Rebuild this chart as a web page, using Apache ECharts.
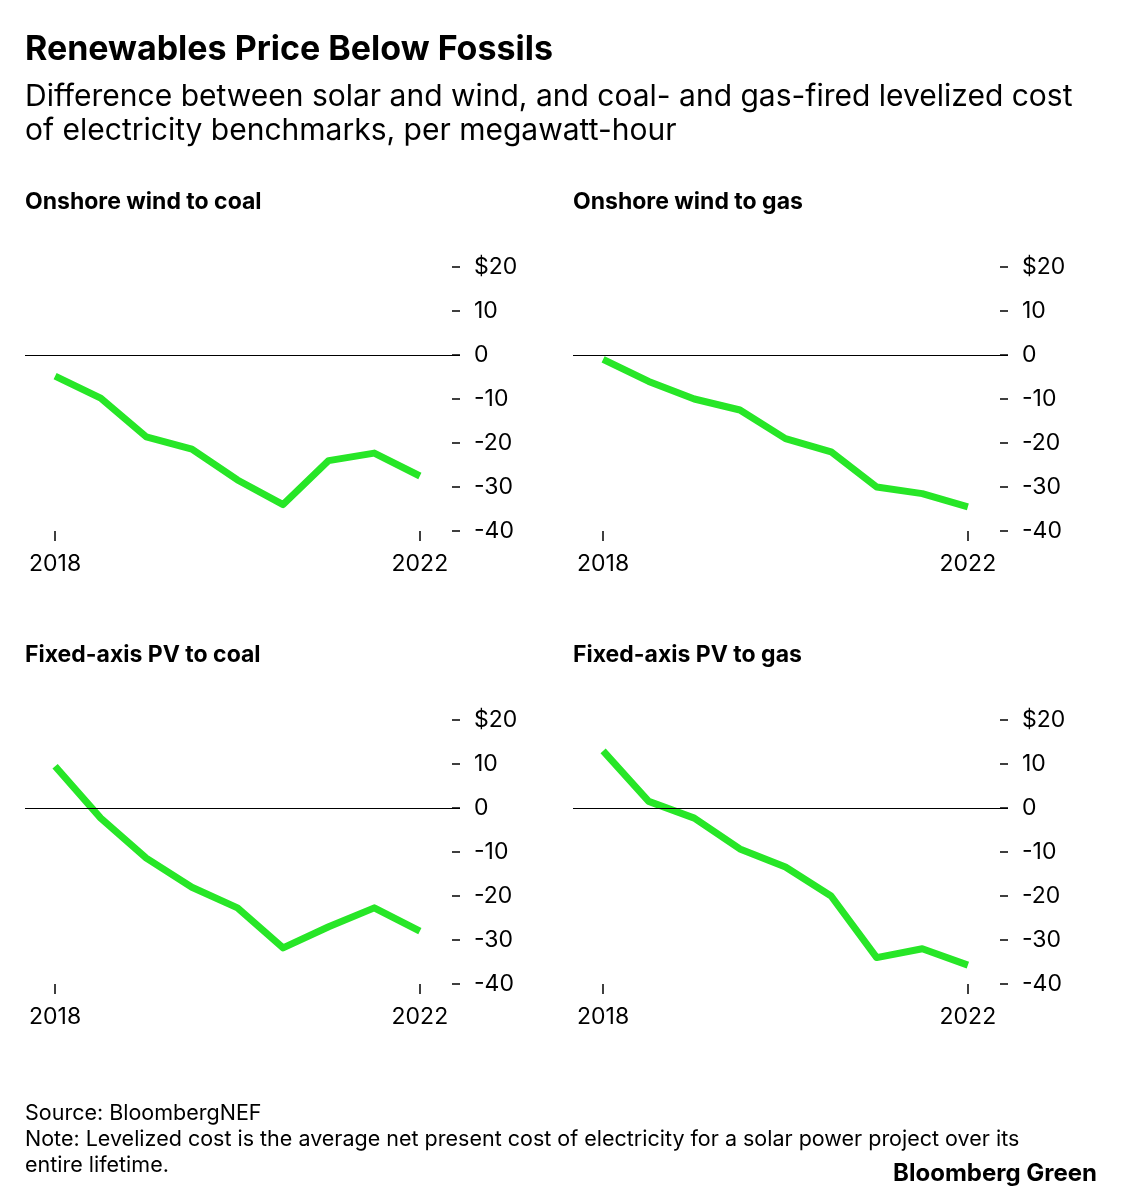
<!DOCTYPE html>
<html><head><meta charset="utf-8">
<script src="https://cdn.jsdelivr.net/npm/echarts@6/dist/echarts.min.js"></script>
<style>html,body{margin:0;padding:0;background:#fff}#c{width:1122px;height:1200px}</style>
</head><body><div id="c"></div>
<script>
const periods = ['1H 2018','2H 2018','1H 2019','2H 2019','1H 2020','2H 2020','1H 2021','2H 2021','1H 2022'];
const xTickLabels = ['2018','2022'];
const yTicks = [-40,-30,-20,-10,0,10,20];
const panelTitles = ['Onshore wind to coal','Onshore wind to gas','Fixed-axis PV to coal','Fixed-axis PV to gas'];
const windCoal = [-4.8,-9.8,-18.6,-21.4,-28.4,-34,-24,-22.3,-27.5];
const windGas = [-1,-6,-10,-12.5,-19,-22,-30,-31.5,-34.5];
const pvCoal = [9.5,-2.3,-11.4,-18,-22.7,-31.8,-27,-22.7,-28];
const pvGas = [13,1.5,-2.3,-9.3,-13.4,-20,-34,-32,-35.7];
const seriesData = [windCoal, windGas, pvCoal, pvGas];

const FONT = 'Inter, "Noto Sans", sans-serif';
const chart = echarts.init(document.getElementById('c'));
const pos = [[25,267],[573,267],[25,720],[573,720]];
const grids=[],xAxes=[],yAxes=[],series=[],texts=[];
pos.forEach((p,i)=>{
  grids.push({left:p[0],top:p[1],width:435,height:264});
  xAxes.push({type:'value',gridIndex:i,min:-0.66,max:8.88,
    axisLine:{show:false,onZero:false},splitLine:{show:false},
    axisTick:{show:true,customValues:[0,8],length:10,inside:false,lineStyle:{color:'#000',width:1.5}},
    axisLabel:{customValues:[0,8],formatter:v=>v===0?xTickLabels[0]:xTickLabels[1],color:'#000',fontSize:23,fontFamily:FONT,margin:22}});
  yAxes.push({type:'value',gridIndex:i,position:'right',min:-40,max:20,interval:10,
    axisLine:{show:false,onZero:false},splitLine:{show:false},
    axisTick:{show:true,inside:true,length:8,lineStyle:{color:'#000',width:1.5}},
    axisLabel:{formatter:v=>v===20?'$20':String(v),color:'#000',fontSize:23,fontFamily:FONT,margin:14}});
  series.push({type:'line',xAxisIndex:i,yAxisIndex:i,
    data:seriesData[i].map((v,j)=>[j,v]),showSymbol:false,
    lineStyle:{color:'#27e627',width:7,join:'round'},
    markLine:{silent:true,symbol:['none','none'],label:{show:false},
      lineStyle:{color:'#000',width:1.2,type:'solid'},data:[{yAxis:0}]}});
  texts.push({type:'text',left:p[0],top:p[1]-76,style:{text:panelTitles[i],font:'bold 23px '+FONT,fill:'#000'}});
});
texts.push({type:'text',left:25,top:33,style:{text:'Renewables Price Below Fossils',font:'bold 34px '+FONT,fill:'#000'}});
texts.push({type:'text',left:25,top:80,style:{text:'Difference between solar and wind, and coal- and gas-fired levelized cost\nof electricity benchmarks, per megawatt-hour',font:'30px '+FONT,lineHeight:34,fill:'#000'}});
texts.push({type:'text',left:25,top:1101,style:{text:'Source: BloombergNEF\nNote: Levelized cost is the average net present cost of electricity for a solar power project over its\nentire lifetime.',font:'21.5px '+FONT,lineHeight:26,fill:'#000'}});
texts.push({type:'text',right:25,top:1162,style:{text:'Bloomberg Green',font:'bold 24px '+FONT,fill:'#000'}});
chart.setOption({animation:false,grid:grids,xAxis:xAxes,yAxis:yAxes,series:series,graphic:texts});
</script></body></html>
